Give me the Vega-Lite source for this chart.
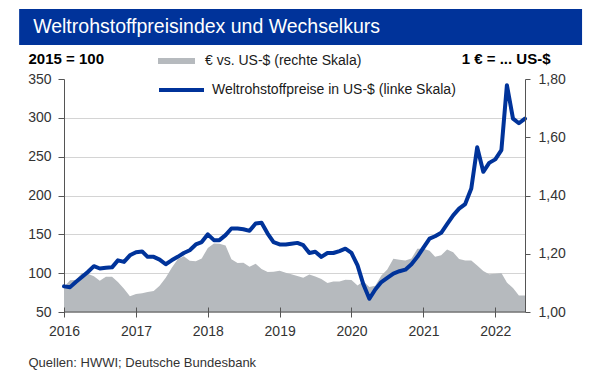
{
  "$schema": "https://vega.github.io/schema/vega-lite/v6.json",
  "padding": {"left": 19, "top": 9, "right": 18, "bottom": 5},
  "width": 461,
  "height": 233,
  "background": "white",
  "data": {"values": [
    {"date": "2016-01-01", "rohstoff": 83, "eurusd": 1.086},
    {"date": "2016-02-01", "rohstoff": 82, "eurusd": 1.109},
    {"date": "2016-03-01", "rohstoff": 88.7, "eurusd": 1.110},
    {"date": "2016-04-01", "rohstoff": 95, "eurusd": 1.134},
    {"date": "2016-05-01", "rohstoff": 101.5, "eurusd": 1.131},
    {"date": "2016-06-01", "rohstoff": 109, "eurusd": 1.123},
    {"date": "2016-07-01", "rohstoff": 106, "eurusd": 1.107},
    {"date": "2016-08-01", "rohstoff": 107, "eurusd": 1.121},
    {"date": "2016-09-01", "rohstoff": 107.5, "eurusd": 1.121},
    {"date": "2016-10-01", "rohstoff": 116.5, "eurusd": 1.103},
    {"date": "2016-11-01", "rohstoff": 114.5, "eurusd": 1.080},
    {"date": "2016-12-01", "rohstoff": 123, "eurusd": 1.054},
    {"date": "2017-01-01", "rohstoff": 127, "eurusd": 1.062},
    {"date": "2017-02-01", "rohstoff": 128, "eurusd": 1.064},
    {"date": "2017-03-01", "rohstoff": 121, "eurusd": 1.069},
    {"date": "2017-04-01", "rohstoff": 121, "eurusd": 1.072},
    {"date": "2017-05-01", "rohstoff": 117.5, "eurusd": 1.090},
    {"date": "2017-06-01", "rohstoff": 111.5, "eurusd": 1.118},
    {"date": "2017-07-01", "rohstoff": 116.5, "eurusd": 1.151},
    {"date": "2017-08-01", "rohstoff": 121, "eurusd": 1.181},
    {"date": "2017-09-01", "rohstoff": 126, "eurusd": 1.191},
    {"date": "2017-10-01", "rohstoff": 129.5, "eurusd": 1.176},
    {"date": "2017-11-01", "rohstoff": 137, "eurusd": 1.174},
    {"date": "2017-12-01", "rohstoff": 140, "eurusd": 1.184},
    {"date": "2018-01-01", "rohstoff": 150, "eurusd": 1.220},
    {"date": "2018-02-01", "rohstoff": 142.5, "eurusd": 1.235},
    {"date": "2018-03-01", "rohstoff": 142.5, "eurusd": 1.234},
    {"date": "2018-04-01", "rohstoff": 149, "eurusd": 1.228},
    {"date": "2018-05-01", "rohstoff": 157.5, "eurusd": 1.181},
    {"date": "2018-06-01", "rohstoff": 157.5, "eurusd": 1.168},
    {"date": "2018-07-01", "rohstoff": 156.5, "eurusd": 1.169},
    {"date": "2018-08-01", "rohstoff": 154.5, "eurusd": 1.155},
    {"date": "2018-09-01", "rohstoff": 164, "eurusd": 1.166},
    {"date": "2018-10-01", "rohstoff": 165, "eurusd": 1.148},
    {"date": "2018-11-01", "rohstoff": 151, "eurusd": 1.137},
    {"date": "2018-12-01", "rohstoff": 140, "eurusd": 1.138},
    {"date": "2019-01-01", "rohstoff": 137, "eurusd": 1.142},
    {"date": "2019-02-01", "rohstoff": 137, "eurusd": 1.135},
    {"date": "2019-03-01", "rohstoff": 138, "eurusd": 1.130},
    {"date": "2019-04-01", "rohstoff": 139, "eurusd": 1.124},
    {"date": "2019-05-01", "rohstoff": 136, "eurusd": 1.118},
    {"date": "2019-06-01", "rohstoff": 126, "eurusd": 1.129},
    {"date": "2019-07-01", "rohstoff": 127.5, "eurusd": 1.122},
    {"date": "2019-08-01", "rohstoff": 121, "eurusd": 1.113},
    {"date": "2019-09-01", "rohstoff": 126, "eurusd": 1.100},
    {"date": "2019-10-01", "rohstoff": 126, "eurusd": 1.105},
    {"date": "2019-11-01", "rohstoff": 128.5, "eurusd": 1.105},
    {"date": "2019-12-01", "rohstoff": 131.5, "eurusd": 1.111},
    {"date": "2020-01-01", "rohstoff": 126, "eurusd": 1.110},
    {"date": "2020-02-01", "rohstoff": 110, "eurusd": 1.091},
    {"date": "2020-03-01", "rohstoff": 86, "eurusd": 1.106},
    {"date": "2020-04-01", "rohstoff": 67, "eurusd": 1.086},
    {"date": "2020-05-01", "rohstoff": 79, "eurusd": 1.090},
    {"date": "2020-06-01", "rohstoff": 88.5, "eurusd": 1.125},
    {"date": "2020-07-01", "rohstoff": 94, "eurusd": 1.146},
    {"date": "2020-08-01", "rohstoff": 99.5, "eurusd": 1.183},
    {"date": "2020-09-01", "rohstoff": 102.5, "eurusd": 1.179},
    {"date": "2020-10-01", "rohstoff": 104.5, "eurusd": 1.177},
    {"date": "2020-11-01", "rohstoff": 111.5, "eurusd": 1.184},
    {"date": "2020-12-01", "rohstoff": 121, "eurusd": 1.217},
    {"date": "2021-01-01", "rohstoff": 133, "eurusd": 1.217},
    {"date": "2021-02-01", "rohstoff": 144.5, "eurusd": 1.210},
    {"date": "2021-03-01", "rohstoff": 147.5, "eurusd": 1.190},
    {"date": "2021-04-01", "rohstoff": 152, "eurusd": 1.195},
    {"date": "2021-05-01", "rohstoff": 163, "eurusd": 1.215},
    {"date": "2021-06-01", "rohstoff": 174.5, "eurusd": 1.205},
    {"date": "2021-07-01", "rohstoff": 183, "eurusd": 1.182},
    {"date": "2021-08-01", "rohstoff": 189, "eurusd": 1.177},
    {"date": "2021-09-01", "rohstoff": 209, "eurusd": 1.177},
    {"date": "2021-10-01", "rohstoff": 262, "eurusd": 1.160},
    {"date": "2021-11-01", "rohstoff": 230.5, "eurusd": 1.141},
    {"date": "2021-12-01", "rohstoff": 242, "eurusd": 1.130},
    {"date": "2022-01-01", "rohstoff": 246.5, "eurusd": 1.131},
    {"date": "2022-02-01", "rohstoff": 258.5, "eurusd": 1.134},
    {"date": "2022-03-01", "rohstoff": 342, "eurusd": 1.101},
    {"date": "2022-04-01", "rohstoff": 299, "eurusd": 1.082},
    {"date": "2022-05-01", "rohstoff": 293, "eurusd": 1.057},
    {"date": "2022-06-01", "rohstoff": 299, "eurusd": 1.057}
  ]},
  "layer": [
    {
      "mark": {"type": "area", "color": "#b6babe"},
      "encoding": {
        "x": {"field": "date", "type": "temporal",
          "scale": {"domain": [{"year": 2016, "month": 1, "date": 1}, {"year": 2022, "month": 6, "date": 1}]},
          "axis": {"values": [{"year": 2016}, {"year": 2017}, {"year": 2018}, {"year": 2019}, {"year": 2020}, {"year": 2021}, {"year": 2022}],
            "format": "%Y", "labelFlush": false, "offset": -5, "tickSize": 10, "domain": false, "labelPadding": 7, "grid": false,
            "zindex": 1, "labelAlign": "center", "tickCount": 20,
            "title": "Quellen: HWWI; Deutsche Bundesbank", "titleX": -36, "titleY": 55, "titleAlign": "left", "titleBaseline": "middle",
            "titleFontSize": 13, "titleFontWeight": "normal", "titleColor": "#333333", "titleAnchor": "start"}},
        "y": {"field": "eurusd", "type": "quantitative",
          "scale": {"domain": [1.0, 1.8], "nice": false, "zero": false},
          "axis": {"orient": "right", "values": [1.0, 1.2, 1.4, 1.6, 1.8], "tickCount": 10,
            "labelExpr": "replace(format(datum.value, '.2f'), '.', ',')",
            "grid": false, "tickSize": 5, "labelPadding": 8, "zindex": 1,
            "title": "1 € = ... US-$", "titleAngle": 0, "titleX": 25, "titleY": -21, "titleAlign": "right", "titleBaseline": "middle",
            "titleFontSize": 15, "titleFontWeight": "bold", "titleColor": "#000000"}},
        "y2": {"datum": 1.0},
        "fill": {"datum": "€ vs. US-$ (rechte Skala)", "type": "nominal",
          "scale": {"range": ["#b6babe"]},
          "legend": {"orient": "none", "legendX": 94, "legendY": -36.5, "padding": 0, "title": null,
            "symbolType": "M-1,-0.16H1V0.16H-1Z", "symbolSize": 1369, "symbolStrokeWidth": 0,
            "labelOffset": 10, "labelFontSize": 14, "labelColor": "#1a1a1a", "labelFont": "Liberation Sans", "labelLimit": 400}}
      }
    },
    {
      "layer": [
        {
          "mark": {"type": "line", "strokeWidth": 4, "strokeJoin": "round", "strokeCap": "round"},
          "encoding": {
            "x": {"field": "date", "type": "temporal"},
            "y": {"field": "rohstoff", "type": "quantitative",
              "scale": {"domain": [50, 350], "nice": false, "zero": false},
              "axis": {"orient": "left", "values": [50, 100, 150, 200, 250, 300, 350], "tickCount": 10, "grid": true, "labelOverlap": false,
                "gridColor": {"condition": {"test": "datum.value >= 350", "value": "rgba(0,0,0,0)"}, "value": "#d4d4d4"},
                "tickSize": 6, "labelPadding": 7,
                "title": "2015 = 100", "titleAngle": 0, "titleX": -36, "titleY": -21, "titleAlign": "left", "titleBaseline": "middle",
                "titleFontSize": 15, "titleFontWeight": "bold", "titleColor": "#000000"}},
            "stroke": {"datum": "Weltrohstoffpreise in US-$ (linke Skala)", "type": "nominal",
              "scale": {"range": ["#00339a"]},
              "legend": {"orient": "none", "legendX": 93, "legendY": -13.5, "padding": 0, "title": null,
                "symbolType": "stroke", "symbolSize": 2025, "symbolStrokeWidth": 4,
                "labelOffset": 6, "labelFontSize": 14, "labelColor": "#1a1a1a", "labelFont": "Liberation Sans", "labelLimit": 400}}
          }
        },
        {
          "data": {"values": [{}]},
          "mark": {"type": "rule", "color": "#555555", "strokeWidth": 1},
          "encoding": {"y": {"datum": 50, "type": "quantitative"}}
        },
        {
          "data": {"values": [{}]},
          "mark": {"type": "rect", "color": "#00339a"},
          "encoding": {
            "x": {"datum": {"year": 2015, "month": 5, "date": 18}, "type": "temporal"},
            "x2": {"datum": {"year": 2023, "month": 3, "date": 18}},
            "y": {"datum": 393.8, "type": "quantitative"},
            "y2": {"datum": 440.1}
          }
        },
        {
          "data": {"values": [{}]},
          "mark": {"type": "text", "align": "left", "baseline": "middle", "dx": 14, "fontSize": 19.5, "color": "white",
            "font": "Liberation Sans", "text": "Weltrohstoffpreisindex und Wechselkurs"},
          "encoding": {
            "x": {"datum": {"year": 2015, "month": 5, "date": 18}, "type": "temporal"},
            "y": {"datum": 417, "type": "quantitative"}
          }
        }
      ]
    }
  ],
  "resolve": {"scale": {"y": "independent"}},
  "config": {
    "font": "Liberation Sans",
    "view": {"stroke": null},
    "axis": {"labelFont": "Liberation Sans", "labelFontSize": 14, "labelColor": "#333333", "domainColor": "#555555", "tickColor": "#555555", "titleFont": "Liberation Sans"},
    "legend": {"labelFont": "Liberation Sans"}
  }
}
